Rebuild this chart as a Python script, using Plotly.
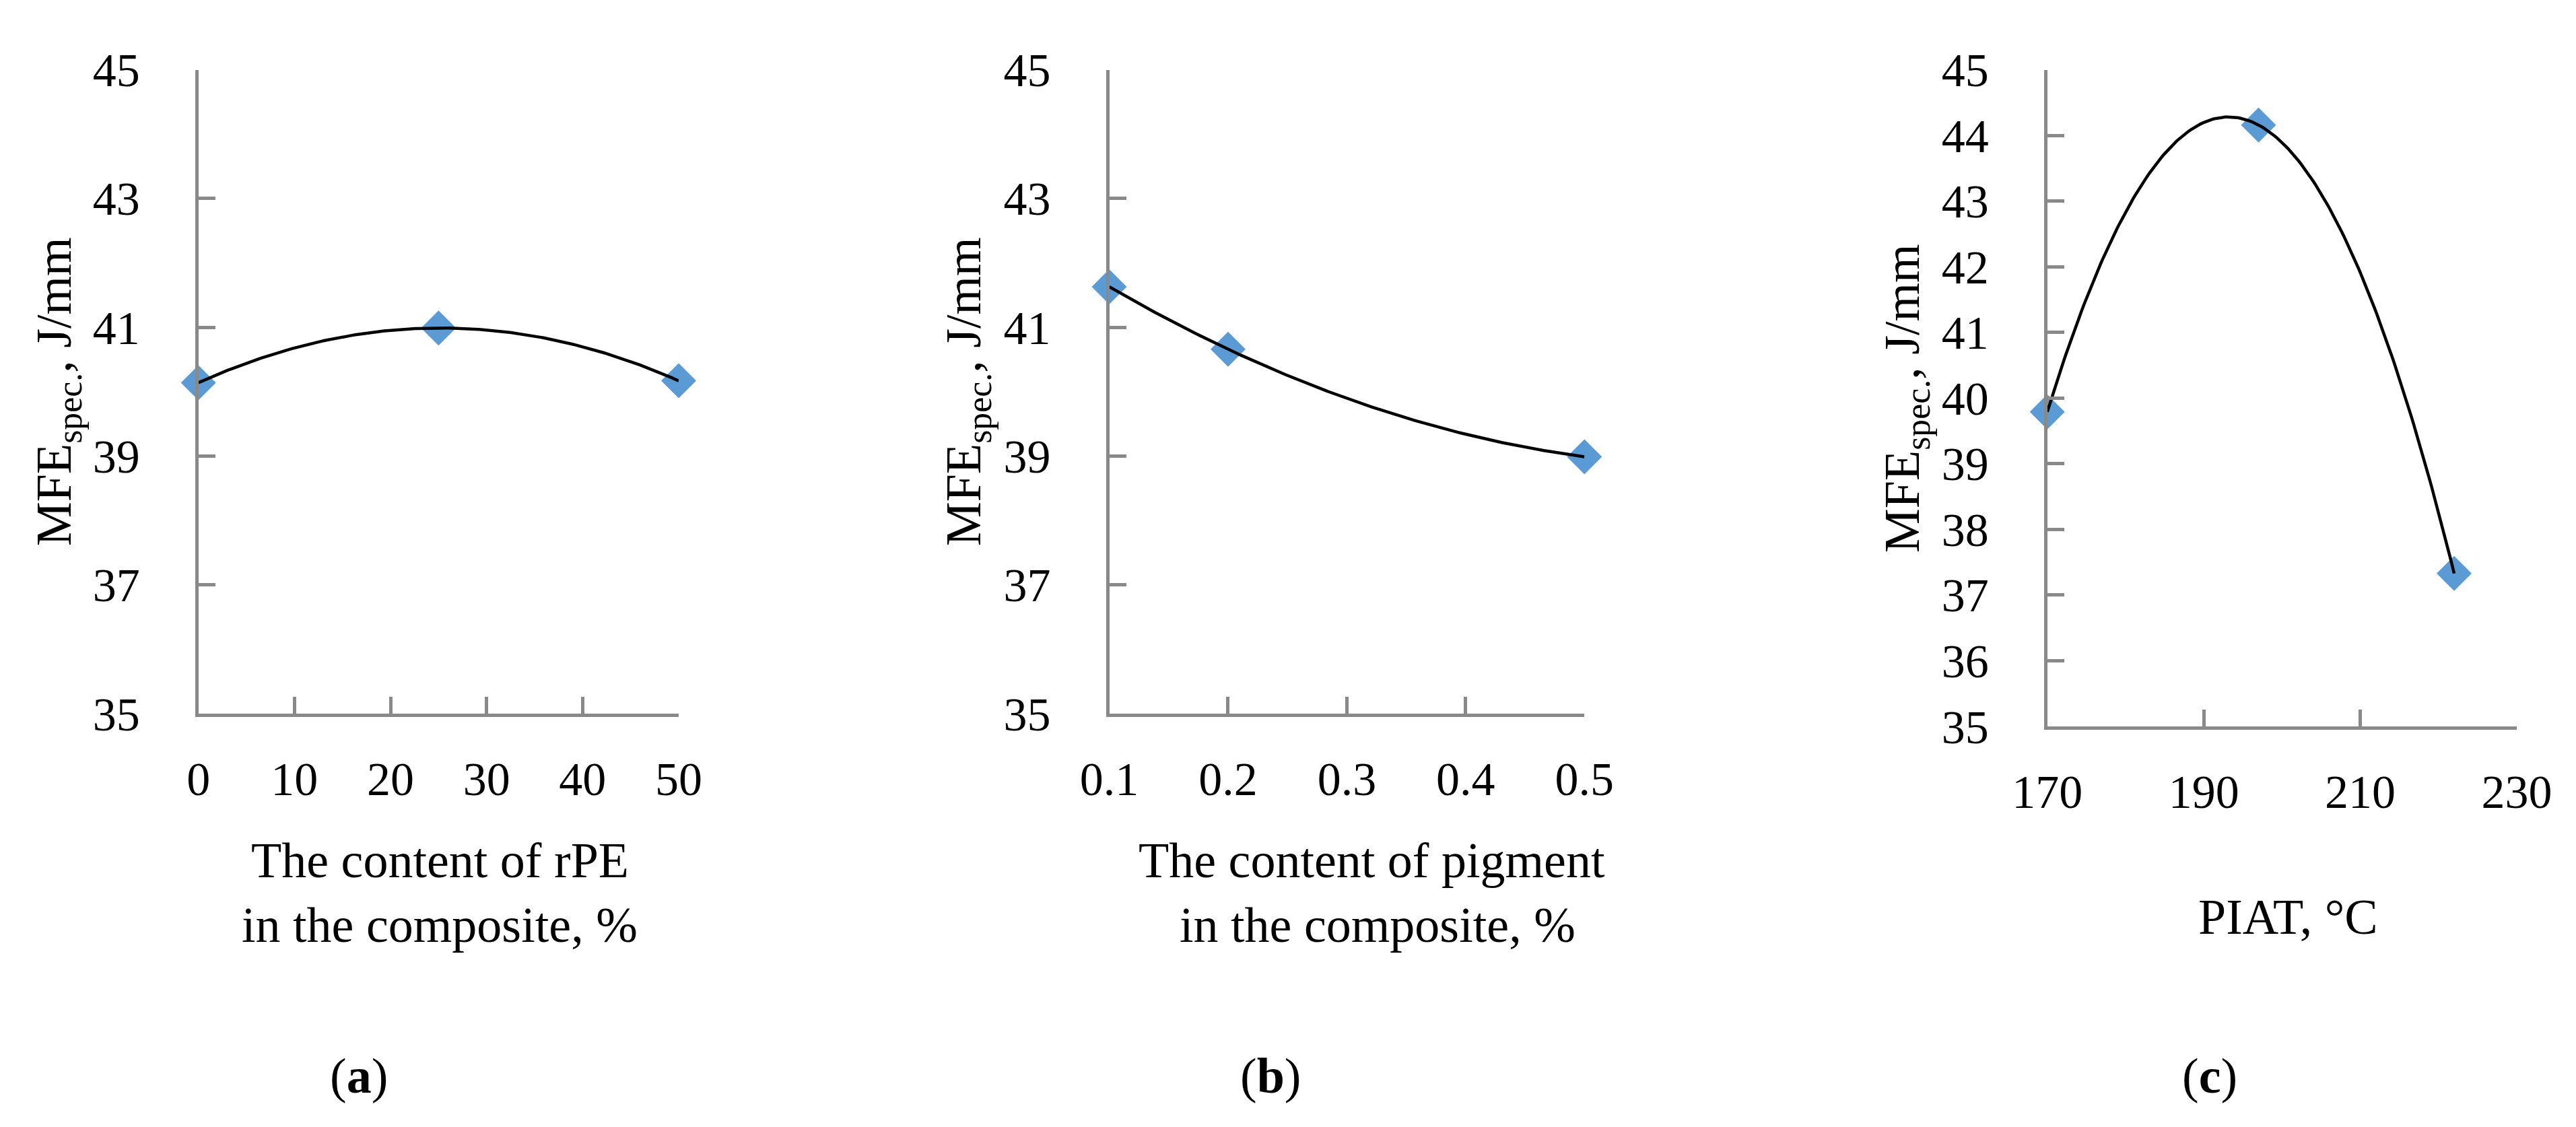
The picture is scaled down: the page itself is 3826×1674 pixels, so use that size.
import numpy as np
import plotly.graph_objects as go

W, H = 3826, 1674

# ---- data ----
rpe_content = [0, 25, 50]
rpe_mfe = [40.14, 40.99, 40.17]

pigment_content = [0.1, 0.2, 0.5]
pigment_mfe = [41.63, 40.66, 38.99]

piat = [170, 197, 222]
piat_mfe = [39.79, 44.16, 37.33]

FONT = "Liberation Serif"
FS = 70
FS_T = 74
AXIS_COLOR = "#898989"
MARK_COLOR = "#5B9BD5"

def px_x(p):
    return p / W

def px_y(p):
    return 1 - p / H

fig = go.Figure()

panels = [
    dict(x=rpe_content, y=rpe_mfe, xd=[286.7, 1000], yd=[95.7, 1052], xr=[0, 50], xdt=10, ydt=2),
    dict(x=pigment_content, y=pigment_mfe, xd=[1639.5, 2345.3], yd=[95.7, 1052], xr=[0.1, 0.5], xdt=0.1, ydt=2),
    dict(x=piat, y=piat_mfe, xd=[3032.7, 3730], yd=[95.7, 1071], xr=[170, 230], xdt=20, ydt=1),
]

layout_axes = {}
for i, p in enumerate(panels, start=1):
    xa = "x" if i == 1 else f"x{i}"
    ya = "y" if i == 1 else f"y{i}"
    # markers
    fig.add_trace(go.Scatter(
        x=p["x"], y=p["y"], mode="markers", xaxis=xa, yaxis=ya,
        marker=dict(symbol="diamond", size=40, color=MARK_COLOR),
        showlegend=False, hoverinfo="skip", cliponaxis=False))
    # polynomial trendline (order 2) fitted to the data
    coef = np.polyfit(p["x"], p["y"], 2)
    xs = np.linspace(min(p["x"]), max(p["x"]), 200)
    fig.add_trace(go.Scatter(
        x=xs, y=np.polyval(coef, xs), mode="lines", xaxis=xa, yaxis=ya,
        line=dict(color="black", width=4.5), showlegend=False,
        hoverinfo="skip", cliponaxis=False))
    common = dict(showgrid=False, zeroline=False, showline=True, automargin=False,
                  linecolor=AXIS_COLOR, linewidth=5, ticks="inside",
                  ticklen=25, tickwidth=5, tickcolor=AXIS_COLOR,
                  tickfont=dict(family=FONT, size=FS, color="black"))
    layout_axes["xaxis" if i == 1 else f"xaxis{i}"] = dict(
        common, domain=[px_x(p["xd"][0]), px_x(p["xd"][1])],
        range=p["xr"], dtick=p["xdt"], tick0=p["xr"][0],
        anchor=ya, ticklabelstandoff=32)
    layout_axes["yaxis" if i == 1 else f"yaxis{i}"] = dict(
        common, domain=[px_y(p["yd"][1]), px_y(p["yd"][0])],
        range=[35, 45], dtick=p["ydt"], tick0=35,
        anchor=xa, ticklabelstandoff=68)

ann = []
def add_text(text, cx, cy, angle=0, size=FS_T):
    ann.append(dict(text=text, x=px_x(cx), y=px_y(cy), xref="paper", yref="paper",
                    xanchor="center", yanchor="middle", showarrow=False,
                    textangle=angle, font=dict(family=FONT, size=size, color="black")))

ytitle = "MFE<sub>spec.</sub>, J/mm"
add_text(ytitle, 77, 574, -90)
add_text(ytitle, 1428, 574, -90)
add_text(ytitle, 2822, 584, -90)

add_text("The content of rPE", 645, 1270)
add_text("in the composite, %", 645, 1366)
add_text("The content of pigment", 2029, 1270)
add_text("in the composite, %", 2038, 1366)
add_text("PIAT, °C", 3390, 1354)

add_text("(<b>a</b>)", 525, 1590)
add_text("(<b>b</b>)", 1879, 1590)
add_text("(<b>c</b>)", 3274, 1590)

fig.update_layout(
    width=W, height=H, margin=dict(l=0, r=0, t=0, b=0, autoexpand=False),
    paper_bgcolor="white", plot_bgcolor="white",
    annotations=ann, **layout_axes)

fig.write_html("out.html")
